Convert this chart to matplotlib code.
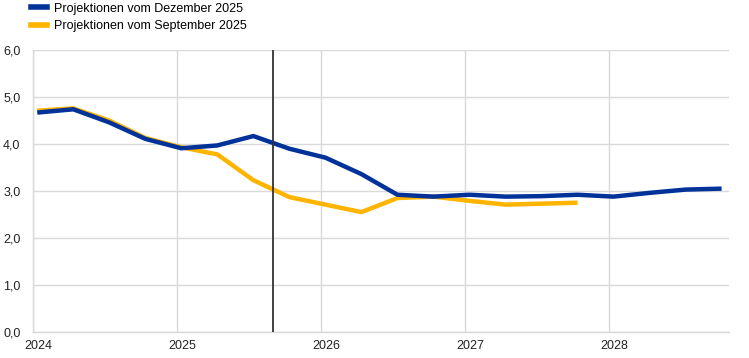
import numpy as np
import matplotlib
matplotlib.use("Agg")
import matplotlib.pyplot as plt
import matplotlib.transforms as mtransforms

plt.rcParams['font.family'] = ['Liberation Sans', 'DejaVu Sans']

# quarterly data, 2024Q1 .. 2028Q4
quarters = ["2024Q1", "2024Q2", "2024Q3", "2024Q4",
            "2025Q1", "2025Q2", "2025Q3", "2025Q4",
            "2026Q1", "2026Q2", "2026Q3", "2026Q4",
            "2027Q1", "2027Q2", "2027Q3", "2027Q4",
            "2028Q1", "2028Q2", "2028Q3", "2028Q4"]
dec_2025 = [4.67, 4.74, 4.46, 4.11, 3.91, 3.97, 4.17, 3.90,
            3.71, 3.36, 2.92, 2.88, 2.92, 2.88, 2.89, 2.92,
            2.88, 2.96, 3.03, 3.05]
sep_2025 = [4.71, 4.76, 4.50, 4.13, 3.93, 3.78, 3.23, 2.87,
            2.71, 2.55, 2.85, 2.88, 2.79, 2.71, 2.73, 2.75]
cutoff = 2025.665
years = [2024, 2025, 2026, 2027, 2028]
yticks = [0, 1, 2, 3, 4, 5, 6]

labels = ["Projektionen vom Dezember 2025", "Projektionen vom September 2025"]
blue = "#003299"
yellow = "#FFB400"


def qpos(q):
    return int(q[:4]) + (int(q[-1]) - 1) / 4 + 0.03


x_dec = [qpos(q) for q in quarters[:len(dec_2025)]]
x_sep = [qpos(q) for q in quarters[:len(sep_2025)]]

fig = plt.figure(figsize=(7.49, 3.58), dpi=100)
ax = fig.add_axes([0.044, 0.073, 0.929, 0.787])

ax.plot(x_sep, sep_2025, color=yellow, lw=3.2, solid_capstyle="butt", zorder=3)
ax.plot(x_dec, dec_2025, color=blue, lw=3.2, solid_capstyle="butt", zorder=4)
ax.axvline(cutoff, color="#333333", lw=1.3, zorder=5)

ax.set_xlim(2024, 2028.83)
ax.set_ylim(0, 6)
ax.set_xticks(years)
ax.set_xticklabels([str(y) for y in years])
ax.set_yticks(yticks)
ax.set_yticklabels([f"{v:.1f}".replace(".", ",") for v in yticks])
ax.grid(True, color="#d9d9d9", lw=1)
ax.set_axisbelow(True)
for s in ["top", "right"]:
    ax.spines[s].set_visible(False)
for s in ["left", "bottom"]:
    ax.spines[s].set_color("#d9d9d9")
    ax.spines[s].set_linewidth(1)
ax.tick_params(length=0, labelsize=9, colors="#222222")
ax.tick_params(axis="y", pad=9)
ax.tick_params(axis="x", pad=6)
offset = mtransforms.ScaledTranslation(5 / 100, 0, fig.dpi_scale_trans)
for lab in ax.get_xticklabels():
    lab.set_transform(lab.get_transform() + offset)

handles = [plt.Line2D([], [], color=blue, lw=4),
           plt.Line2D([], [], color=yellow, lw=4)]
fig.legend(handles, labels, loc="upper left", bbox_to_anchor=(0.035, 1.006),
           frameon=False, fontsize=9, handlelength=1.3, handletextpad=0.5,
           labelspacing=0.45, borderaxespad=0)

fig.savefig("out.png", dpi=100)
